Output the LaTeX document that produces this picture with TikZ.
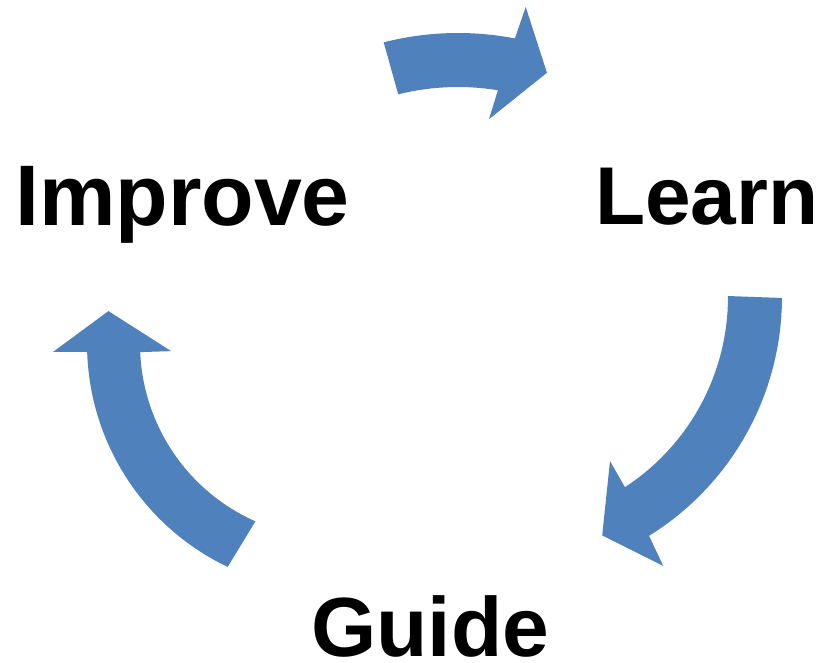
\documentclass[tikz,border=0pt]{standalone}
\usepackage{fontspec}
\setmainfont{Liberation Sans}
\usetikzlibrary{positioning}

\begin{document}
\begin{tikzpicture}[x=1pt,y=-1pt]

\tikzstyle{every node}=[inner sep=0pt,anchor=base west,font=\fontsize{86}{86}\selectfont\bfseries]
\tikzstyle{cycle arrow}=[fill={rgb,255:red,79;green,129;blue,189},draw=none]

\useasboundingbox (0,0) rectangle (819,662);

%words of the cycle
\node (improve) at (15,225) {Improve};
\node [font=\fontsize{82}{82}\selectfont\bfseries] (learn) at (595,224) {Learn};
\node [font=\fontsize{84}{84}\selectfont\bfseries] (guide) at (311,656) {Guide};

%centres of the arrow arcs
\coordinate (topc) at (458,334);
\coordinate (rightc) at (501,297);
\coordinate (leftc) at (334,344);

%improve to learn
\fill [cycle arrow,shift={(topc)}] plot[domain=-104.3:-79.1,samples=30] (\x:301)
      -- (-78.3:334) -- (-71.2:276) -- (-81.8:217) -- (-80.7:247)
      -- plot[domain=-80.7:-104,samples=30] (\x:247) -- cycle;

%learn to guide
\fill [cycle arrow,shift={(rightc)}] plot[domain=0.2:58.2,samples=30] (\x:281)
      -- (58.9:314) -- (67:259) -- (56.4:197) -- (56.9:227)
      -- plot[domain=56.9:-0.25,samples=30] (\x:227) -- cycle;

%guide to improve
\fill [cycle arrow,shift={(leftc)}] plot[domain=115.5:178.2,samples=30] (\x:247)
      -- (178.4:281) -- (188.3:228) -- (177.5:163) -- (177.6:194)
      -- plot[domain=177.6:113.9,samples=30] (\x:194) -- cycle;

\end{tikzpicture}
\end{document}
